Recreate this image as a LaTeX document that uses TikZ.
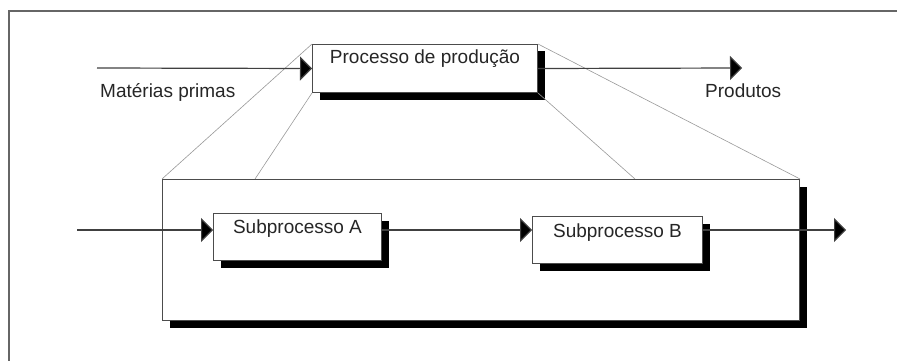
\documentclass[tikz,border=0pt]{standalone}
\usepackage{fontspec}
\setmainfont{Liberation Sans}
\usetikzlibrary{arrows.meta,shadows}
\begin{document}
\begin{tikzpicture}[x=1pt,y=-1pt,
  every node/.style={font=\fontsize{19}{22}\selectfont, text=black!85},
  procbox/.style={draw=black!70, line width=1pt, fill=white, inner xsep=0pt, inner ysep=0pt,
    drop shadow={shadow xshift=7pt, shadow yshift=-7pt, opacity=1, fill=black}},
  flow/.style={draw=black!75, line width=1.2pt, -{Triangle[length=12pt,width=24pt,fill=black]}},
  plainflow/.style={draw=black!75, line width=1.2pt},
  zoomline/.style={draw=black!40, line width=0.6pt},
  frameline/.style={draw=black!60, line width=1.5pt}]
\useasboundingbox (0,0) rectangle (897,361);
\draw[frameline] (9,361) -- (9,11) -- (897,11);

% nodes
\node[procbox, minimum width=637pt, minimum height=141pt, anchor=north west] (big) at (162,179) {};
\node[procbox, minimum width=225pt, text height=19pt, text depth=29pt, anchor=north west] (top) at (312,44) {Processo de produção};
\node[procbox, minimum width=168pt, text height=20pt, text depth=27pt, anchor=north west] (A) at (213,213) {Subprocesso A};
\node[procbox, minimum width=170pt, text height=21pt, text depth=26pt, anchor=north west] (B) at (532,216) {Subprocesso B};

\node[anchor=base west, inner sep=0pt] (mp) at (100,97) {Matérias primas};
\node[anchor=base west, inner sep=0pt] (prod) at (705,98) {Produtos};

% zoom lines
\coordinate (zl) at (255,179);
\coordinate (zr) at (635,179);
\draw[zoomline] (top.north west) -- (big.north west);
\draw[zoomline] (top.south west) -- (zl);
\draw[zoomline] (top.north east) -- (big.north east);
\draw[zoomline] (top.south east) -- (zr);

% top flow
\coordinate (tin) at (97,68);
\coordinate (tout) at (742,68);
\draw[flow] (tin) -- (top.west);
\draw[flow] (top.east) -- (tout);

% sub flow
\coordinate (sin) at (77,230);
\coordinate (sout) at (846,230);
\draw[flow] (sin) -- (sin -| A.west);
\draw[flow] (sin -| A.east) -- (sin -| B.west);
\draw[flow] (sin -| B.east) -- (sout);
\end{tikzpicture}
\end{document}
